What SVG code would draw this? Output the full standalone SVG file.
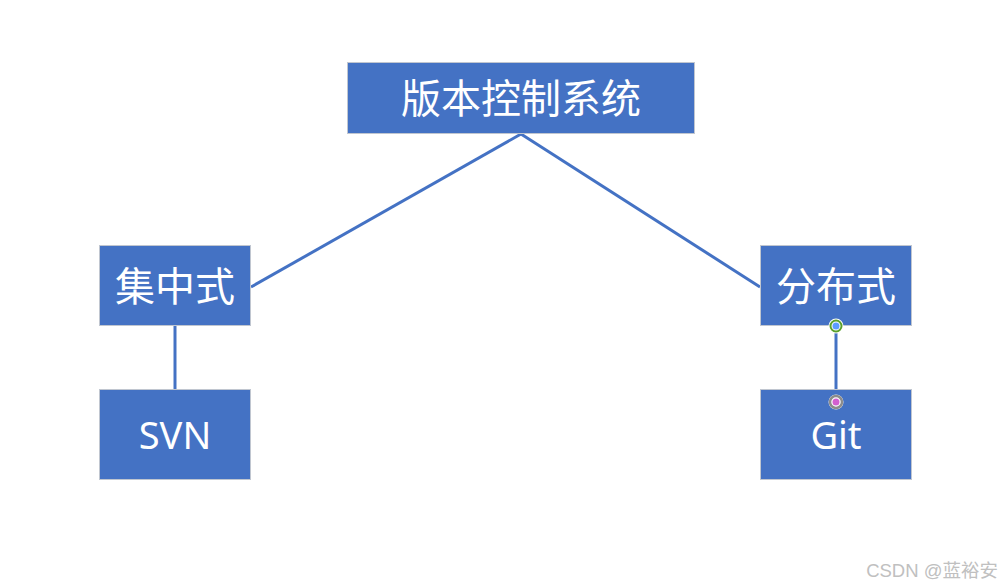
<svg xmlns="http://www.w3.org/2000/svg" width="1002" height="588" viewBox="0 0 1002 588">
<style>
.box{fill:#4472c4;stroke:#c0c6d0;stroke-width:1}
.t{fill:#fff;font-family:"Noto Sans CJK SC","Noto Sans",sans-serif;text-anchor:middle;dominant-baseline:central}
.c{stroke:#4472c4;stroke-width:3;fill:none}
</style>
<rect width="1002" height="588" fill="#fff"/>
<g id="connectors">
<line class="c" x1="521" y1="134" x2="251" y2="287"/>
<line class="c" x1="521" y1="134" x2="760" y2="287"/>
<line class="c" x1="175" y1="326" x2="175" y2="389"/>
<line class="c" x1="836" y1="326" x2="836" y2="389"/>
</g>
<g id="root"><rect class="box" x="347.5" y="62.5" width="347" height="71"/><text class="t" x="521" y="96" font-size="40">版本控制系统</text></g>
<g id="centralized"><rect class="box" x="99.5" y="245.5" width="151" height="80"/><text class="t" x="175" y="284" font-size="40">集中式</text></g>
<g id="distributed"><rect class="box" x="760.5" y="245.5" width="151" height="80"/><text class="t" x="836" y="284" font-size="40">分布式</text></g>
<g id="svn"><rect class="box" x="99.5" y="389.5" width="151" height="90"/><text class="t" x="175" y="434" font-size="38" style="font-family:'Noto Sans',sans-serif">SVN</text></g>
<g id="git"><rect class="box" x="760.5" y="389.5" width="151" height="90"/><text class="t" x="836" y="434" font-size="38" style="font-family:'Noto Sans',sans-serif">Git</text></g>
<g id="handles">
<circle cx="836" cy="326" r="7.5" fill="#fff"/><circle cx="836" cy="326" r="5.5" fill="none" stroke="#5aa02c" stroke-width="2"/><circle cx="836" cy="326" r="3.5" fill="#5b9bff"/>
<circle cx="836" cy="402" r="7.5" fill="#fff"/><circle cx="836" cy="402" r="6" fill="none" stroke="#8c8c8c" stroke-width="2.5"/><circle cx="836" cy="402" r="3.5" fill="#d35fd0"/>
</g>
<text x="998" y="577" font-size="18.5" fill="#c0c0c0" text-anchor="end" style="font-family:'Liberation Sans','Noto Sans CJK SC',sans-serif">CSDN @蓝裕安</text>
</svg>
